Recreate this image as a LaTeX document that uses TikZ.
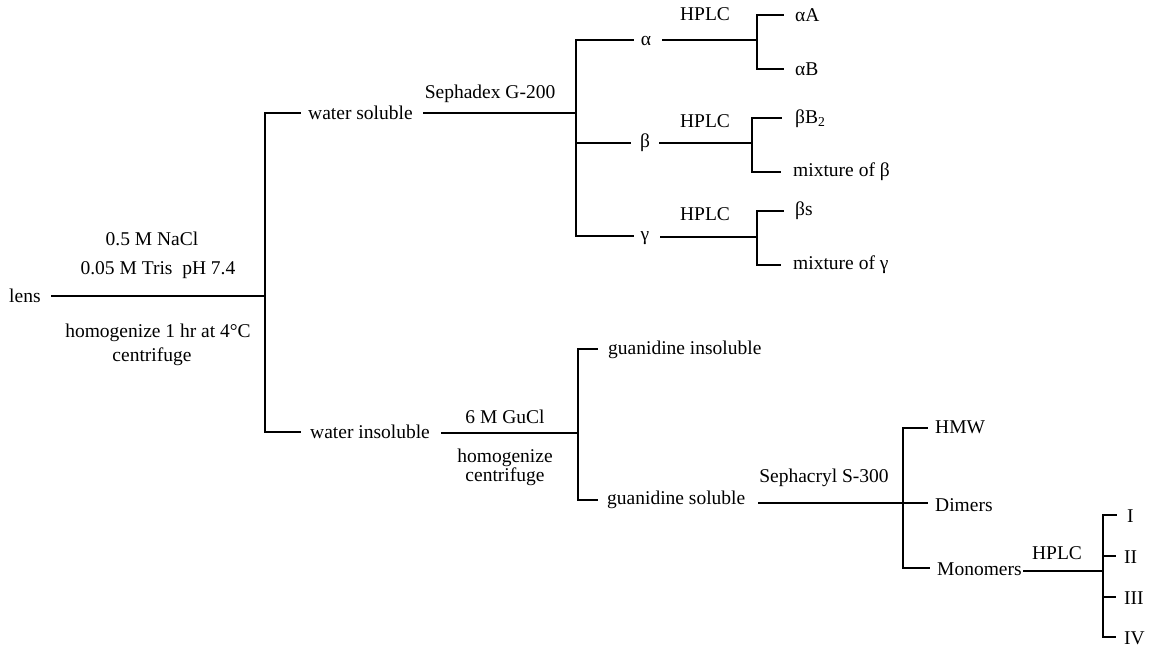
\documentclass[tikz,border=0pt]{standalone}
\usepackage{fontspec}
\setmainfont{Liberation Serif}
\begin{document}
\begin{tikzpicture}[x=1pt,y=-1pt,
  lbl/.style={font=\fontsize{19.5}{21}\selectfont, inner sep=0pt},
  ln/.style={line width=2.7pt, line cap=rect}]
\useasboundingbox[fill=white] (0,0) rectangle (1161,648);
% junction coordinates
\coordinate (J) at (265,296);
\coordinate (A) at (265,113);
\coordinate (B) at (265,432);
\coordinate (C) at (576,113);
\coordinate (Ct) at (576,40);
\coordinate (Cm) at (576,143);
\coordinate (Cb) at (576,236);
\coordinate (Da) at (757,40);
\coordinate (Dat) at (757,15);
\coordinate (Dab) at (757,69);
\coordinate (Db) at (752,143);
\coordinate (Dbt) at (752,118);
\coordinate (Dbb) at (752,172);
\coordinate (Dg) at (757,237);
\coordinate (Dgt) at (757,211);
\coordinate (Dgb) at (757,265);
\coordinate (E) at (578,433);
\coordinate (Et) at (578,349);
\coordinate (Eb) at (578,500);
\coordinate (F) at (903,503);
\coordinate (Ft) at (903,428);
\coordinate (Fb) at (903,568);
\coordinate (G) at (1103,571);
\coordinate (G1) at (1103,515);
\coordinate (G2) at (1103,556);
\coordinate (G3) at (1103,597);
\coordinate (G4) at (1103,637);

% text nodes
\node[lbl,anchor=west] (lens) at (9,296) {lens};
\node[lbl] (nacl) at (152,239) {0.5 M NaCl};
\node[lbl] (tris) at (158,270) {0.05 M Tris\ \ pH 7.4};
\node[lbl] (homo) at (158,333) {homogenize 1 hr at 4°C};
\node[lbl] (cent) at (152,357) {centrifuge};
\node[lbl,anchor=west] (ws) at (308,113) {water soluble};
\node[lbl] (seph) at (490,94) {Sephadex G-200};
\node[lbl] (al) at (646,41) {α};
\node[lbl] (be) at (645,143) {β};
\node[lbl] (ga) at (645,238) {γ};
\node[lbl] (h1) at (705,14) {HPLC};
\node[lbl] (h2) at (705,121) {HPLC};
\node[lbl] (h3) at (705,214) {HPLC};
\node[lbl,anchor=west] (aA) at (795,15) {αA};
\node[lbl,anchor=west] (aB) at (795,69) {αB};
\node[lbl,anchor=west] (bB) at (795,119) {βB\textsubscript{2}};
\node[lbl,anchor=west] (mb) at (793,172) {mixture of β};
\node[lbl,anchor=west] (bs) at (795,211) {βs};
\node[lbl,anchor=west] (mg) at (793,265) {mixture of γ};
\node[lbl,anchor=west] (wi) at (310,432) {water insoluble};
\node[lbl] (gucl) at (505,417) {6 M GuCl};
\node[lbl] (hom2) at (505,458) {homogenize};
\node[lbl] (cen2) at (505,477) {centrifuge};
\node[lbl,anchor=west] (gi) at (608,350) {guanidine insoluble};
\node[lbl,anchor=west] (gs) at (607,500) {guanidine soluble};
\node[lbl] (s300) at (824,478) {Sephacryl S-300};
\node[lbl,anchor=west] (hmw) at (935,427) {HMW};
\node[lbl,anchor=west] (dim) at (935,505) {Dimers};
\node[lbl,anchor=west] (mon) at (937,569) {Monomers};
\node[lbl] (h4) at (1057,553) {HPLC};
\node[lbl,anchor=west] (r1) at (1127,516) {I};
\node[lbl,anchor=west] (r2) at (1124,557) {II};
\node[lbl,anchor=west] (r3) at (1124,598) {III};
\node[lbl,anchor=west] (r4) at (1124,638) {IV};

% connectors
\draw[ln, shorten <=12pt] (lens.east |- J) -- (J);
\draw[ln] (A) -- (B);
\draw[ln, shorten >=8pt] (A) -- (ws.west |- A);
\draw[ln, shorten <=11pt] (ws.east |- A) -- (C);
\draw[ln] (Ct) -- (Cb);
\draw[ln, shorten >=8pt] (Ct) -- (al.west |- Ct);
\draw[ln, shorten >=10pt] (Cm) -- (be.west |- Cm);
\draw[ln, shorten >=8pt] (Cb) -- (ga.west |- Cb);
\draw[ln, shorten <=12pt] (al.east |- Da) -- (Da);
\draw[ln, shorten <=10pt] (be.east |- Db) -- (Db);
\draw[ln, shorten <=12pt] (ga.east |- Dg) -- (Dg);
\draw[ln] (Dat) -- (Dab);
\draw[ln] (Dbt) -- (Dbb);
\draw[ln] (Dgt) -- (Dgb);
\draw[ln, shorten >=12pt] (Dat) -- (aA.west |- Dat);
\draw[ln, shorten >=12pt] (Dab) -- (aB.west |- Dab);
\draw[ln, shorten >=14pt] (Dbt) -- (bB.west |- Dbt);
\draw[ln, shorten >=13pt] (Dbb) -- (mb.west |- Dbb);
\draw[ln, shorten >=12pt] (Dgt) -- (bs.west |- Dgt);
\draw[ln, shorten >=13pt] (Dgb) -- (mg.west |- Dgb);
\draw[ln, shorten >=10pt] (B) -- (wi.west |- B);
\draw[ln, shorten <=12pt] (wi.east |- E) -- (E);
\draw[ln] (Et) -- (Eb);
\draw[ln, shorten >=11pt] (Et) -- (gi.west |- Et);
\draw[ln, shorten >=10pt] (Eb) -- (gs.west |- Eb);
\draw[ln, shorten <=14pt] (gs.east |- F) -- (F);
\draw[ln] (Ft) -- (Fb);
\draw[ln, shorten >=8pt] (Ft) -- (hmw.west |- Ft);
\draw[ln, shorten >=8pt] (F) -- (dim.west |- F);
\draw[ln, shorten >=8pt] (Fb) -- (mon.west |- Fb);
\draw[ln, shorten <=2pt] (mon.east |- G) -- (G);
\draw[ln] (G1) -- (G4);
\draw[ln, shorten >=11pt] (G1) -- (r1.west |- G1);
\draw[ln, shorten >=9pt] (G2) -- (r2.west |- G2);
\draw[ln, shorten >=9pt] (G3) -- (r3.west |- G3);
\draw[ln, shorten >=9pt] (G4) -- (r4.west |- G4);
\end{tikzpicture}
\end{document}
